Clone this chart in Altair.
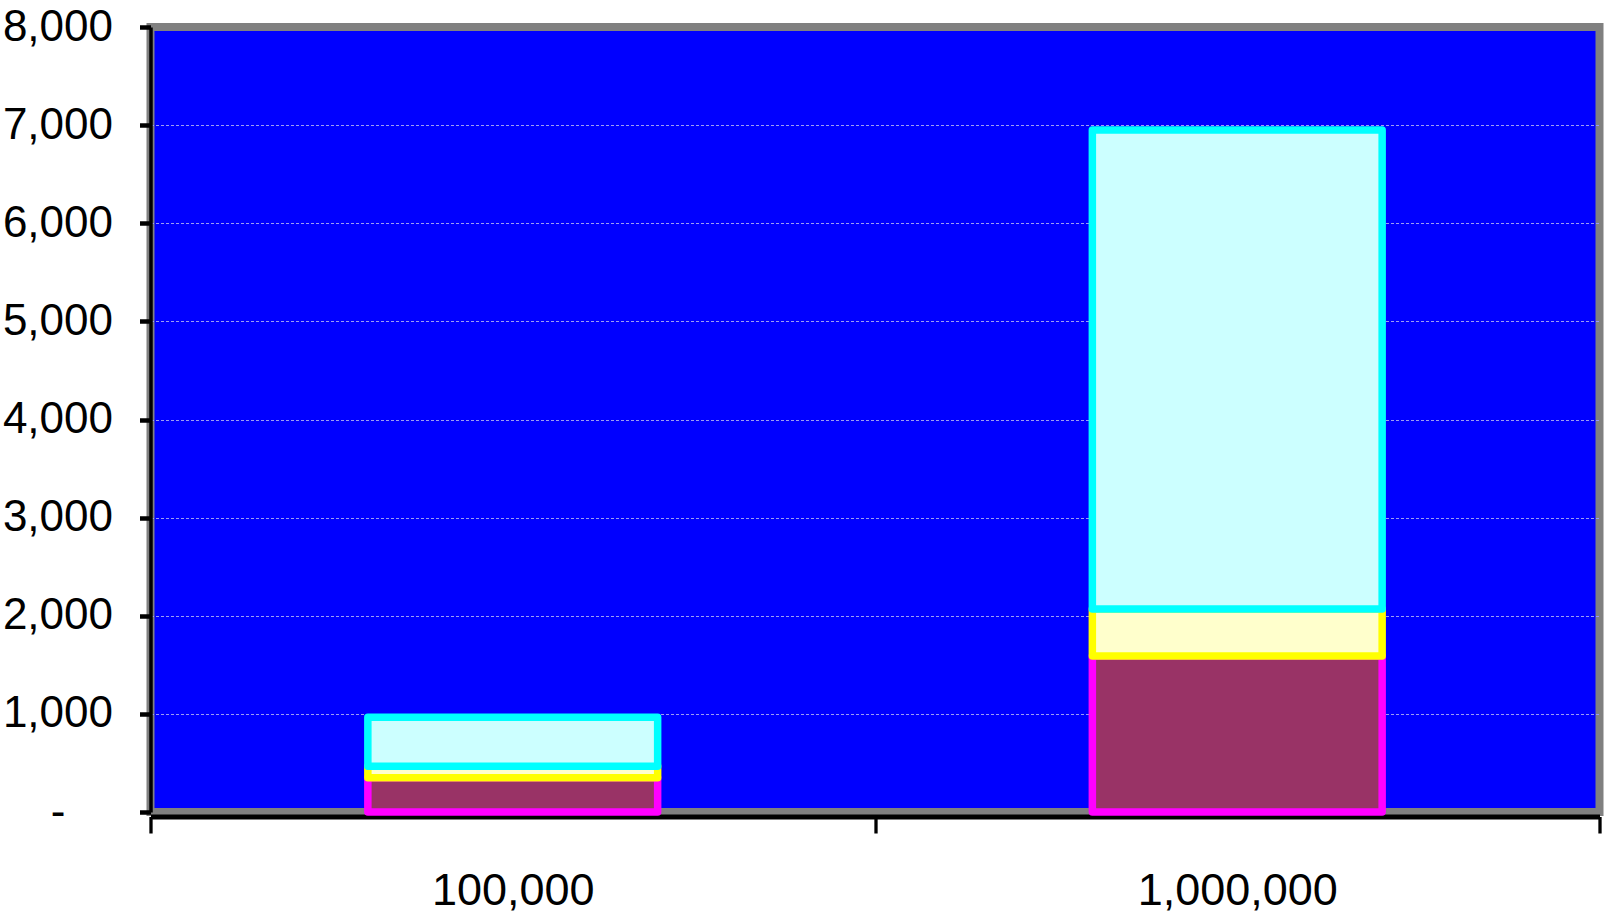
import altair as alt
import pandas as pd

# Category labels along the x axis
categories = ["100,000", "1,000,000"]

# Stacked segment values per category (bottom to top)
series_names = ["Series 1", "Series 2", "Series 3"]
series_1 = [350, 1590]
series_2 = [115, 480]
series_3 = [500, 4880]

# Value axis ticks
y_ticks = [0, 1000, 2000, 3000, 4000, 5000, 6000, 7000, 8000]

fills = ["#993366", "#FFFFCC", "#CCFFFF"]
strokes = ["#FF00FF", "#FFFF00", "#00FFFF"]

FONT = "Liberation Sans Narrow, Arial Narrow, Liberation Sans, sans-serif"

rows = []
for i, cat in enumerate(categories):
    for k, (name, vals) in enumerate(zip(series_names, [series_1, series_2, series_3])):
        rows.append({"category": cat, "series": name, "order": k, "value": vals[i]})
df = pd.DataFrame(rows)

bars = alt.Chart(df).mark_bar(
    width=alt.RelativeBandSize(0.4),
    strokeWidth=7.5,
    strokeJoin="round",
).encode(
    x=alt.X(
        "category:N",
        sort=categories,
        scale=alt.Scale(paddingInner=0, paddingOuter=0),
        axis=alt.Axis(
            title=None,
            labelAngle=0,
            tickBand="extent",
            grid=False,
            domainColor="black",
            domainWidth=5,
            tickColor="black",
            tickWidth=3.3,
            tickSize=16.5,
            offset=4.5,
            labelFont=FONT,
            labelFontSize=45,
            labelColor="black",
            labelPadding=35,
            labelLimit=0,
        ),
    ),
    y=alt.Y(
        "value:Q",
        stack="zero",
        scale=alt.Scale(domain=[0, 8000], nice=False),
        axis=alt.Axis(
            title=None,
            values=y_ticks,
            labelExpr="datum.value === 0 ? '-' : format(datum.value, ',')",
            domainColor="black",
            domainWidth=3.5,
            tickColor="black",
            tickWidth=4.5,
            tickSize=11,
            labelFont=FONT,
            labelFontSize=44,
            labelColor="black",
            labelLimit=0,
            labelPadding={"condition": {"test": "datum.value === 0", "value": 74.5}, "value": 27},
            gridColor="#9c9cf4",
            gridDash=[3, 2],
            gridWidth=1,
            gridOpacity={"condition": {"test": "datum.value === 0 || datum.value === 8000", "value": 0}, "value": 1},
        ),
    ),
    order=alt.Order("order:Q"),
    fill=alt.Fill("series:N", scale=alt.Scale(domain=series_names, range=fills), legend=None),
    stroke=alt.Stroke("series:N", scale=alt.Scale(domain=series_names, range=strokes), legend=None),
)

chart = bars.properties(
    width=1449,
    height=785,
    padding={"left": 150.5, "top": 27, "right": 8.5, "bottom": 107},
    autosize=alt.AutoSizeParams(type="none"),
    background="white",
).configure_view(
    fill="#0000FF",
    stroke="#808080",
    strokeWidth=8,
)

chart.save("out.html", embed_options={"renderer": "svg", "actions": False})
